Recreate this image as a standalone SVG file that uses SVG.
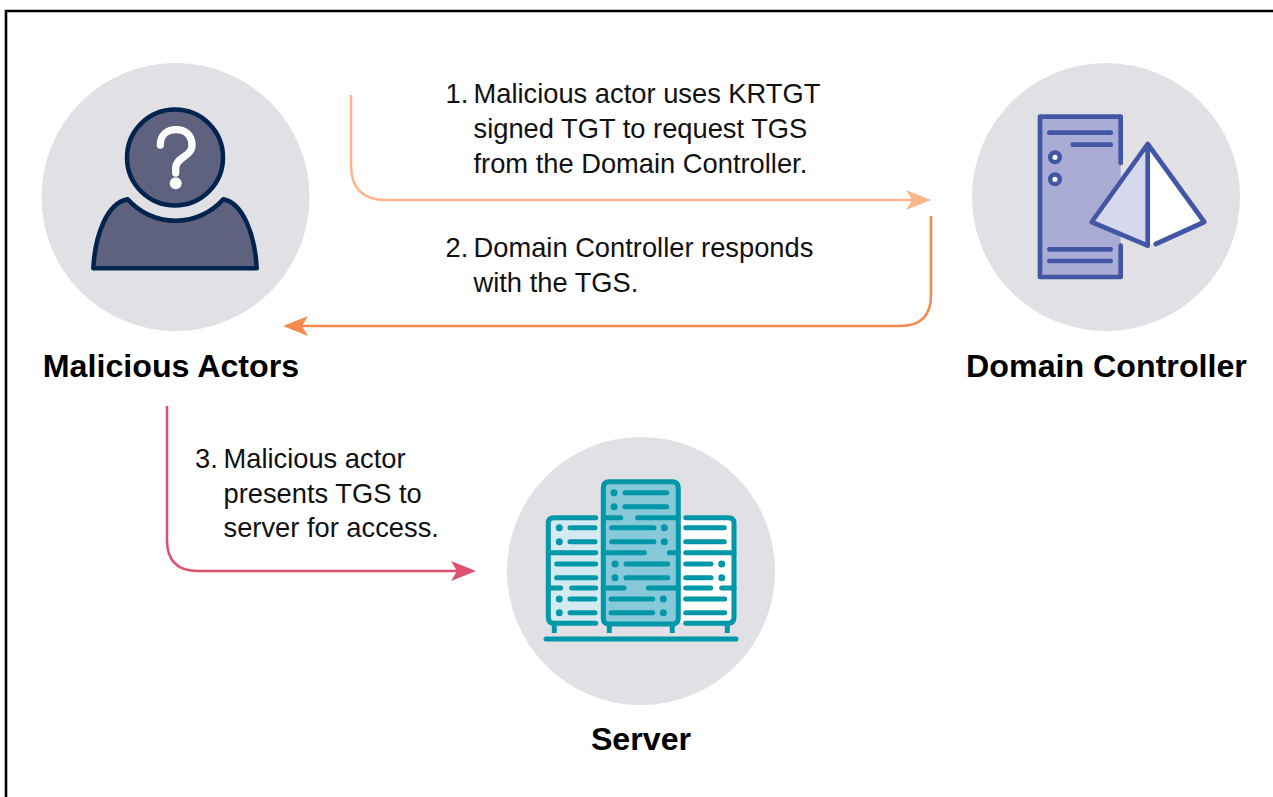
<svg xmlns="http://www.w3.org/2000/svg" width="1273" height="797" viewBox="0 0 1273 797">
<style>
text{font-family:"Liberation Sans",Arial,sans-serif;fill:#111}
.t{font-size:27.300px}
.h{font-size:32.200px;font-weight:700;text-anchor:middle;fill:#000}
.bg{fill:#e0e0e5}
.c{fill:none;stroke-width:2.500}
.dc{stroke:#4355a5;stroke-width:4.700;stroke-linecap:round;stroke-linejoin:round;fill:none}
.sv{stroke:#0097a9;stroke-width:5;stroke-linecap:round;stroke-linejoin:round;fill:none}
.svd{fill:#0097a9}
</style>
<rect width="1273" height="797" fill="#fff"/>
<path d="M6 797V11H1273" fill="none" stroke="#000" stroke-width="2.600"/>
<g id="connectors">
<path class="c" stroke="#fdb58a" d="M351 95V165Q351 200 386 200H925"/>
<path fill="#fdb58a" d="M931 200L906 190L912 200L906 210Z"/>
<path class="c" stroke="#f58a4e" d="M931 216V295Q931 326 900 326H290"/>
<path fill="#f58a4e" d="M283 326L308 316L302 326L308 336Z"/>
<path class="c" stroke="#e0516f" d="M167 406V540Q167 571 198 571H470"/>
<path fill="#e0516f" d="M476 571L451 561L457 571L451 581Z"/>
</g>
<g id="malicious-actors">
<circle class="bg" cx="175.500" cy="197" r="134"/>
<circle cx="175" cy="157.500" r="48" fill="#5f627f" stroke="#03234f" stroke-width="4.500"/>
<path d="M127.700 199.300A64 64 0 0 0 223.300 199.300C243 203 255 235 256.700 268.300H93.300C95 235 107 203 127.700 199.300Z" fill="#5f627f" stroke="#03234f" stroke-width="4.500" stroke-linejoin="round"/>
<path d="M160.300 145C160.300 135 167 129.700 176 129.700C186 129.700 192 136 192 145C192 157 175.700 157 175.700 168V173" fill="none" stroke="#fff" stroke-width="7.300" stroke-linecap="round"/>
<circle cx="175.700" cy="183.300" r="6" fill="#fff"/>
<text class="h" x="171" y="376.500">Malicious Actors</text>
</g>
<g id="domain-controller">
<circle class="bg" cx="1106" cy="197" r="134"/>
<rect x="1040" y="116.700" width="80.700" height="160.300" fill="#a9acd4"/>
<path class="dc" d="M1120.700 163V116.700H1040V277H1120.700V245.700"/>
<path class="dc" d="M1049.300 132.700H1110.700M1072.700 144.700H1110.700M1049.300 249.300H1110.700M1049.300 261H1110.700"/>
<circle cx="1055" cy="157.300" r="4.800" fill="#fff" stroke="#4355a5" stroke-width="4.500"/>
<circle cx="1055" cy="179.300" r="4.800" fill="#fff" stroke="#4355a5" stroke-width="4.500"/>
<path d="M1147.700 144L1204.300 222L1155.700 244L1150 245V144Z" fill="#fff"/>
<path d="M1147.700 144L1091.700 222L1147.700 245.700Z" fill="#d6d9ec"/>
<path class="dc" d="M1155.700 244L1204.300 222L1147.700 144L1091.700 222L1147.700 245.700V144"/>
<text class="h" x="1106.500" y="376.500">Domain Controller</text>
</g>
<g id="server">
<circle class="bg" cx="641" cy="571" r="134"/>
<path fill="#d5e9f0" d="M548 518H603V623H548Z"/>
<path fill="#fff" d="M679 518H734V623H679Z"/>
<path fill="#87c9d9" d="M603 482H678V624H603Z"/>
<path class="sv" d="M595.700 517.700H554Q548.300 517.700 548.300 523V617Q548.300 623.300 554 623.300H595.700"/>
<path class="sv" d="M685.700 517.700H728Q734 517.700 734 523V617Q734 623.300 728 623.300H685.700"/>
<path class="sv" d="M609 481.700H672Q678.300 481.700 678.300 488V618Q678.300 624 672 624H609Q603.300 624 603.300 618V488Q603.300 481.700 609 481.700Z"/>
<path class="sv" d="M548.300 552.700H595.700M548.300 588H560.700M571.700 588H595.700M685.700 552.700H734M685.700 588H710.700M721.700 588H734"/>
<path class="sv" d="M603.300 517.700H620.700M637.700 517.700H678.300M603.300 552.700H644.300M669.300 552.700H678.300M603.300 588H624M648.300 588H678.300"/>
<path class="sv" d="M625 492.700H666.700M625 506.700H666.700M611.700 527.700H654M611.700 541.700H654M626 564H667.700M626 577.700H667.700M611 599H652.700M611 612.700H652.700"/>
<path class="sv" d="M570 527.700H595M570 541.700H595M556.700 564H595.700M556.700 577.700H595.700M570 599H595M570 612.700H595"/>
<path class="sv" d="M685.700 527.700H724.300M685.700 541.700H724.300M685.700 564H711M685.700 577.700H711M685.700 599H724.700M685.700 612.700H724.700"/>
<g class="svd"><circle cx="614" cy="492.700" r="3.500"/><circle cx="614" cy="506.700" r="3.500"/><circle cx="664.300" cy="527.700" r="3.500"/><circle cx="664.300" cy="541.700" r="3.500"/><circle cx="615" cy="564" r="3.500"/><circle cx="615" cy="577.700" r="3.500"/><circle cx="663.300" cy="599" r="3.500"/><circle cx="663.300" cy="612.700" r="3.500"/><circle cx="559.300" cy="527.700" r="3.500"/><circle cx="559.300" cy="541.700" r="3.500"/><circle cx="559.300" cy="599" r="3.500"/><circle cx="559.300" cy="612.700" r="3.500"/><circle cx="721.700" cy="564" r="3.500"/><circle cx="721.700" cy="577.700" r="3.500"/></g>
<path d="M554.300 624V633M609.300 624V633M672.300 624V633M727.300 624V633" stroke="#0097a9" stroke-width="5"/>
<path class="sv" d="M546 639H736"/>
<text class="h" x="641" y="750">Server</text>
</g>
<g id="labels">
<text class="t" x="445.500" y="102.500">1.</text><text class="t" x="473.500" y="102.500">Malicious actor uses KRTGT</text>
<text class="t" x="473.500" y="137.500">signed TGT to request TGS</text>
<text class="t" x="473.500" y="172.500">from the Domain Controller.</text>
<text class="t" x="445.500" y="256.500">2.</text><text class="t" x="473.500" y="256.500">Domain Controller responds</text>
<text class="t" x="473.500" y="291.500">with the TGS.</text>
<text class="t" x="195" y="467.500">3.</text><text class="t" x="223.500" y="467.500">Malicious actor</text>
<text class="t" x="223.500" y="502.500">presents TGS to</text>
<text class="t" x="223.500" y="537">server for access.</text>
</g>
</svg>
